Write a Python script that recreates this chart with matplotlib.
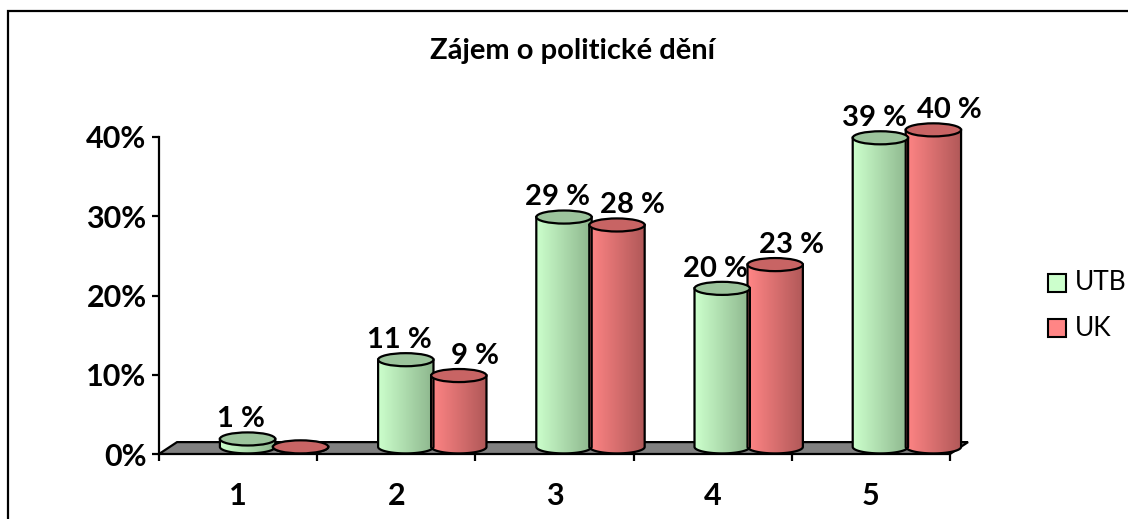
import numpy as np
import matplotlib
matplotlib.use('Agg')
from matplotlib import pyplot as plt
from matplotlib.patches import Polygon, Ellipse, Rectangle
from matplotlib.colors import to_rgb

plt.rcParams['font.family'] = ['Lato', 'DejaVu Sans']

categories = ['1', '2', '3', '4', '5']
utb = [1, 11, 29, 20, 39]
uk = [0, 9, 28, 23, 40]
series_names = ['UTB', 'UK']
title = 'Zájem o politické dění'

W, H = 1128, 519
fig = plt.figure(figsize=(W / 100, H / 100), dpi=100)
ax = fig.add_axes([159 / W, (H - 454) / H, 791 / W, 317 / H])

x = np.arange(len(categories))
bw = 0.35          # cylinder width in category units
eh = 1.65          # ellipse height in % units
base = 0.9         # base of cylinder above floor front edge
floor_dx, floor_dy = 0.114, 1.5


def gradient_img(c1, c2, n=64):
    a = np.array(to_rgb(c1))
    b = np.array(to_rgb(c2))
    t = np.linspace(0, 1, n)[:, None]
    return (a + (b - a) * t)[None, :, :]


def cylinder(xc, val, c_left, c_right, c_top):
    x0, x1 = xc - bw / 2, xc + bw / 2
    top = base + val
    th = np.linspace(np.pi, 2 * np.pi, 60)
    bottom_arc = np.column_stack([xc + bw / 2 * np.cos(th), base + eh / 2 * np.sin(th)])
    pts = np.vstack([[x0, top], bottom_arc, [x1, top]])
    body = Polygon(pts, closed=True, facecolor='none', edgecolor='black', lw=1.6,
                   zorder=3, clip_on=False)
    im = ax.imshow(gradient_img(c_left, c_right), extent=[x0, x1, base - eh, top],
                   aspect='auto', zorder=2.9, interpolation='bilinear')
    ax.add_patch(body)
    im.set_clip_box(fig.bbox)
    im.set_clip_path(body)
    ax.add_patch(Ellipse((xc, top), bw, eh, facecolor=c_top, edgecolor='black',
                         lw=1.6, zorder=3.1, clip_on=False))


# floor
ax.add_patch(Polygon([[-0.5, 0], [4.5, 0], [4.5 + floor_dx, floor_dy],
                      [-0.5 + floor_dx, floor_dy]], closed=True,
                     facecolor='#808080', edgecolor='black', lw=1.6, zorder=1, clip_on=False))

for i in range(len(categories)):
    cylinder(x[i] + 0.06, utb[i], '#CCFFCC', '#8DB68D', '#9CC49C')
    cylinder(x[i] + 0.395, uk[i], '#FF8585', '#B05858', '#C86464')
    if utb[i] > 0:
        ax.text(x[i] + 0.02, base + utb[i] + 2.5, f'{utb[i]} %', ha='center', va='center',
                fontsize=21, fontweight='bold', zorder=5)
    if uk[i] > 0:
        ax.text(x[i] + 0.495, base + uk[i] + 2.5, f'{uk[i]} %', ha='center', va='center',
                fontsize=21, fontweight='bold', zorder=5)

ax.set_xlim(-0.5, 4.5)
ax.set_ylim(0, 40)
for s in ['top', 'right', 'bottom']:
    ax.spines[s].set_visible(False)
ax.spines['left'].set_linewidth(1.6)
ax.set_yticks([0, 10, 20, 30, 40])
ax.set_yticklabels(['0%', '10%', '20%', '30%', '40%'], fontsize=22, fontweight='bold')
ax.tick_params(axis='y', length=5, width=1.6, pad=4)
ax.set_xticks(np.arange(-0.5, 5, 1))
ax.set_xticklabels([])
ax.tick_params(axis='x', which='major', length=5, width=1.6)
ax.set_xticks(x, minor=True)
ax.set_xticklabels(categories, minor=True, fontsize=22, fontweight='bold')
ax.tick_params(axis='x', which='minor', length=0, pad=20)
ax.patch.set_visible(False)

fig.text(573 / W, 1 - 51 / H, title, ha='center', va='center', fontsize=21, fontweight='bold')

# legend
leg_colors = ['#CCFFCC', '#FF8585']
for k, name in enumerate(series_names):
    yc = 1 - (283 + 45 * k) / H
    fig.patches.append(Rectangle((1048 / W, yc - 9 / H), 18 / W, 18 / H, transform=fig.transFigure,
                                 facecolor=leg_colors[k], edgecolor='black', lw=1.5))
    fig.text(1075 / W, yc, name, ha='left', va='center', fontsize=19)

# chart border
fig.patches.append(Rectangle((8 / W, -0.1), 1.2, 1.1 - 11 / H, transform=fig.transFigure,
                             facecolor='none', edgecolor='black', lw=1.6))

fig.savefig('out.png', dpi=100)
